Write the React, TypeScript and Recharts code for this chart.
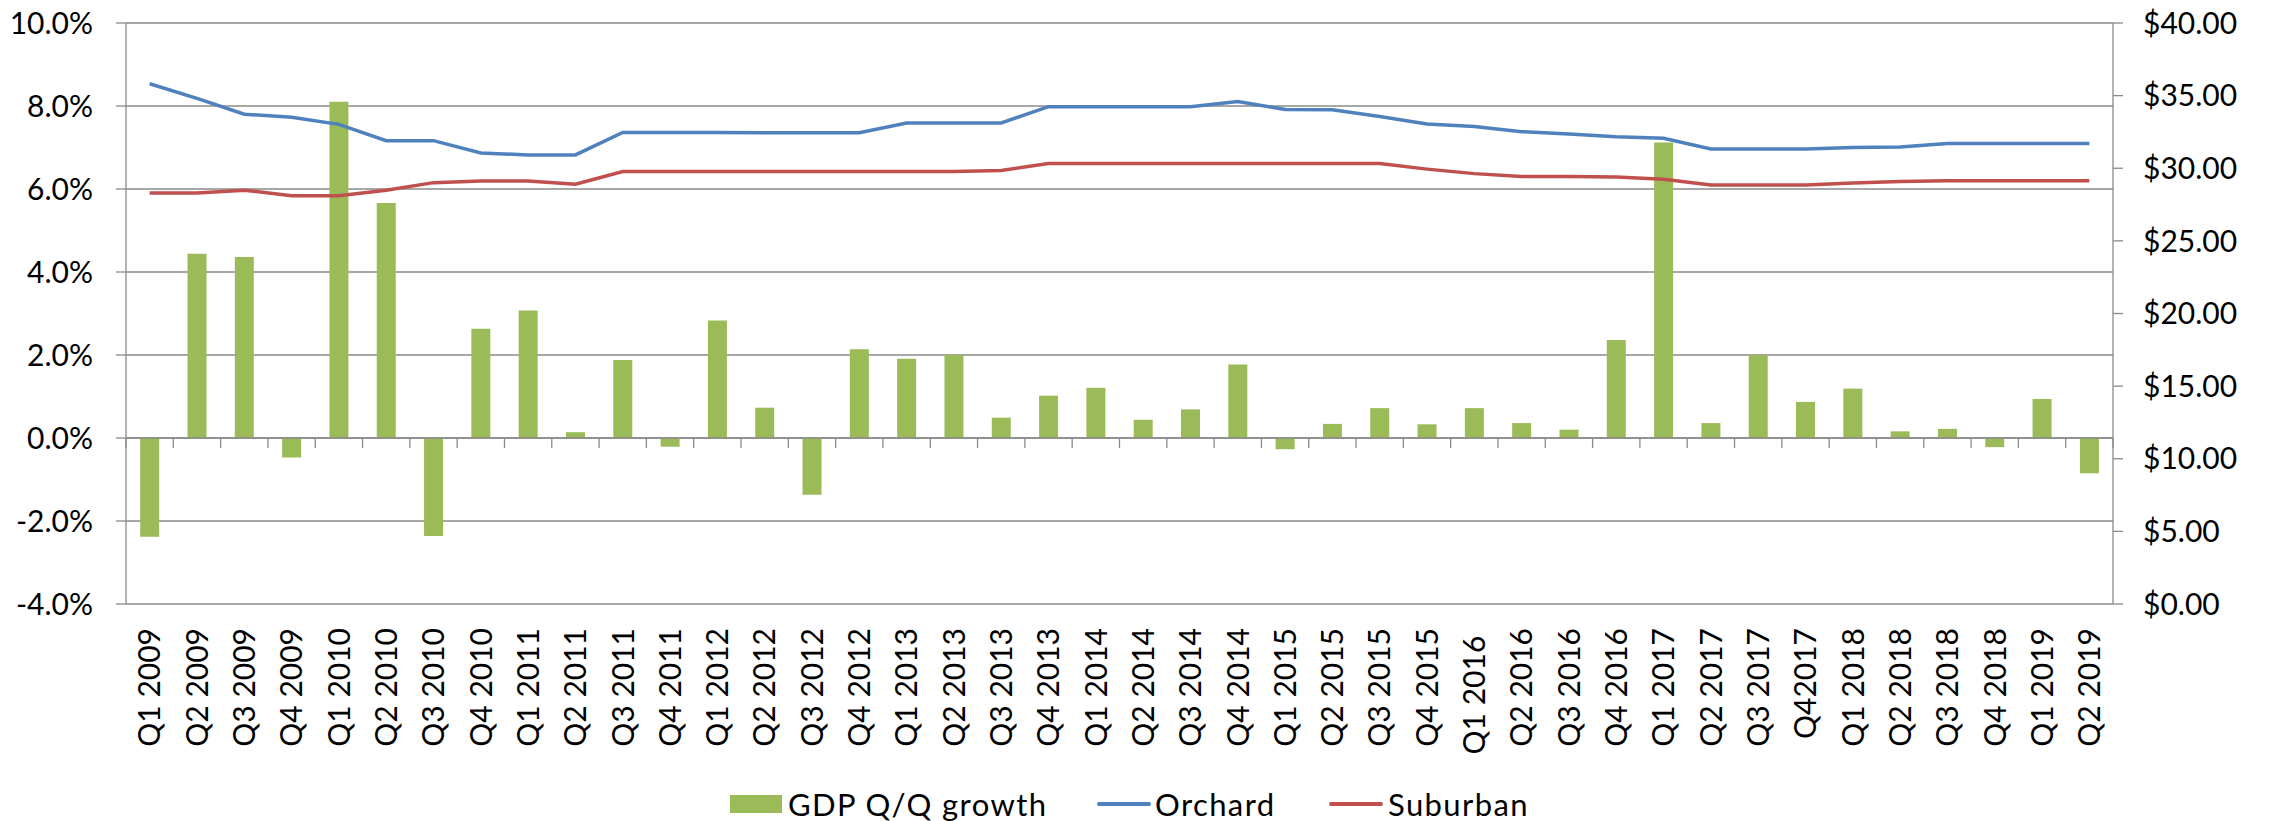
import React from 'react';
import {
  ComposedChart,
  Bar,
  Line,
  XAxis,
  YAxis,
  CartesianGrid,
  Legend,
  ReferenceLine,
} from 'recharts';

const categories: string[] = [
  'Q1 2009', 'Q2 2009', 'Q3 2009', 'Q4 2009',
  'Q1 2010', 'Q2 2010', 'Q3 2010', 'Q4 2010',
  'Q1 2011', 'Q2 2011', 'Q3 2011', 'Q4 2011',
  'Q1 2012', 'Q2 2012', 'Q3 2012', 'Q4 2012',
  'Q1 2013', 'Q2 2013', 'Q3 2013', 'Q4 2013',
  'Q1 2014', 'Q2 2014', 'Q3 2014', 'Q4 2014',
  'Q1 2015', 'Q2 2015', 'Q3 2015', 'Q4 2015',
  'Q1 2016\u00A0', 'Q2 2016', 'Q3 2016', 'Q4 2016',
  'Q1 2017', 'Q2 2017', 'Q3 2017', 'Q42017',
  'Q1 2018', 'Q2 2018', 'Q3 2018', 'Q4 2018',
  'Q1 2019', 'Q2 2019',
];

const gdpGrowth: number[] = [
  -2.38, 4.44, 4.36, -0.47,
  8.10, 5.66, -2.36, 2.63,
  3.07, 0.14, 1.88, -0.21,
  2.83, 0.73, -1.37, 2.14,
  1.91, 2.00, 0.49, 1.02,
  1.21, 0.44, 0.69, 1.77,
  -0.27, 0.34, 0.72, 0.33,
  0.72, 0.36, 0.20, 2.36,
  7.12, 0.36, 2.00, 0.87,
  1.19, 0.16, 0.22, -0.22,
  0.94, -0.85,
];

const orchard: number[] = [
  35.82, 34.81, 33.72, 33.51,
  33.02, 31.90, 31.90, 31.05,
  30.92, 30.92, 32.46, 32.46,
  32.46, 32.45, 32.45, 32.45,
  33.12, 33.12, 33.12, 34.24,
  34.24, 34.24, 34.24, 34.60,
  34.05, 34.02, 33.56, 33.04,
  32.88, 32.52, 32.36, 32.17,
  32.06, 31.32, 31.32, 31.32,
  31.43, 31.46, 31.71, 31.71,
  31.71, 31.71,
];

const suburban: number[] = [
  28.30, 28.30, 28.49, 28.11,
  28.11, 28.49, 29.01, 29.12,
  29.12, 28.90, 29.77, 29.77,
  29.77, 29.77, 29.77, 29.77,
  29.77, 29.77, 29.85, 30.32,
  30.32, 30.32, 30.32, 30.32,
  30.32, 30.32, 30.32, 29.94,
  29.63, 29.44, 29.44, 29.39,
  29.25, 28.84, 28.84, 28.84,
  28.98, 29.09, 29.14, 29.14,
  29.14, 29.14,
];

const leftTicks: number[] = [-4, -2, 0, 2, 4, 6, 8, 10];
const rightTicks: number[] = [0, 5, 10, 15, 20, 25, 30, 35, 40];

const data = categories.map((label, i) => ({
  label,
  gdp: gdpGrowth[i],
  orchard: orchard[i],
  suburban: suburban[i],
}));

const GREEN = '#9BBB59';
const BLUE = '#4F81BD';
const RED = '#C0504D';
const GRAY = '#8A8A8A';
const FONT = 'Lato, "Noto Sans", sans-serif';

const legendTextWidths: number[] = [265, 130, 137];
const legendIconGaps: number[] = [6, 4, 5];

const XTick = (props: any) => {
  const { x, y, payload } = props;
  return (
    <text
      x={x}
      y={y}
      transform={`rotate(-90, ${x}, ${y})`}
      textAnchor="end"
      dy="0.36em"
      fontSize={30}
      fontFamily={FONT}
      fill="#000"
    >
      {payload.value}
    </text>
  );
};

const ZeroAxis = (props: any) => {
  const { x1, y1, x2, y2 } = props;
  const n = categories.length;
  const step = (x2 - x1) / n;
  const ticks = [];
  for (let k = 0; k <= n; k++) {
    const xx = x1 + k * step;
    ticks.push(<line key={k} x1={xx} x2={xx} y1={y1} y2={y1 + 10} stroke={GRAY} strokeWidth={1.3} />);
  }
  return (
    <g>
      <line x1={x1} y1={y1} x2={x2} y2={y2} stroke={GRAY} strokeWidth={1.3} />
      {ticks}
    </g>
  );
};

const LegendContent = (props: any) => {
  const { payload = [] } = props;
  return (
    <div
      style={{
        display: 'flex',
        justifyContent: 'flex-start',
        alignItems: 'center',
        height: 34,
        fontSize: 31,
        letterSpacing: 1.4,
        fontFamily: FONT,
        color: '#000',
        whiteSpace: 'nowrap',
      }}
    >
      {payload.map((entry: any, idx: number) => (
        <div
          key={idx}
          style={{ display: 'flex', alignItems: 'center', marginRight: idx < payload.length - 1 ? 44 : 0 }}
        >
          {entry.type === 'rect' ? (
            <span
              style={{
                display: 'inline-block',
                width: 52,
                height: 18,
                background: entry.color,
                marginRight: legendIconGaps[idx] ?? 5,
              }}
            />
          ) : (
            <span
              style={{
                display: 'inline-block',
                width: 54,
                height: 4,
                borderRadius: 2,
                background: entry.color,
                marginRight: legendIconGaps[idx] ?? 5,
              }}
            />
          )}
          <span style={{ display: 'inline-block', width: legendTextWidths[idx] ?? 'auto' }}>{entry.value}</span>
        </div>
      ))}
    </div>
  );
};

export default function App() {
  return (
    <div style={{ position: 'absolute', left: 0, top: 0, width: 2272, height: 821, background: '#fff', fontFamily: FONT }}>
      <ComposedChart
        width={2272}
        height={821}
        data={data}
        margin={{ top: 23, right: 0, bottom: 0, left: 0 }}
        barCategoryGap="30%"
      >
        <CartesianGrid yAxisId="left" vertical={false} stroke={GRAY} strokeWidth={1.3} />
        <XAxis
          dataKey="label"
          interval={0}
          axisLine={false}
          tickLine={false}
          tickSize={0}
          tickMargin={24}
          height={183}
          tick={<XTick />}
        />
        <YAxis
          yAxisId="left"
          orientation="left"
          width={126}
          domain={[-4, 10]}
          ticks={leftTicks}
          allowDataOverflow
          tickFormatter={(v: number) => `${v.toFixed(1)}%`}
          tick={{ fontSize: 30, fill: '#000', fontFamily: FONT }}
          axisLine={{ stroke: GRAY, strokeWidth: 1.3 }}
          tickLine={{ stroke: GRAY, strokeWidth: 1.3 }}
          tickSize={10}
          tickMargin={23}
        />
        <YAxis
          yAxisId="right"
          orientation="right"
          width={159}
          domain={[0, 40]}
          ticks={rightTicks}
          allowDataOverflow
          tickFormatter={(v: number) => `$${v.toFixed(2)}`}
          tick={{ fontSize: 30, fill: '#000', fontFamily: FONT }}
          axisLine={{ stroke: GRAY, strokeWidth: 1.3 }}
          tickLine={{ stroke: GRAY, strokeWidth: 1.3 }}
          tickSize={10}
          tickMargin={20}
        />
        <ReferenceLine yAxisId="left" y={0} shape={(p: any) => <ZeroAxis {...p} />} />
        <Bar yAxisId="left" dataKey="gdp" name="GDP Q/Q growth" fill={GREEN} isAnimationActive={false} />
        <Line
          yAxisId="right"
          type="linear"
          dataKey="orchard"
          name="Orchard"
          stroke={BLUE}
          strokeWidth={3.5}
          dot={false}
          activeDot={false}
          isAnimationActive={false}
        />
        <Line
          yAxisId="right"
          type="linear"
          dataKey="suburban"
          name="Suburban"
          stroke={RED}
          strokeWidth={3.5}
          dot={false}
          activeDot={false}
          isAnimationActive={false}
        />
        <Legend
          verticalAlign="bottom"
          content={<LegendContent />}
          wrapperStyle={{ left: 730, width: 820, bottom: 0 }}
        />
      </ComposedChart>
    </div>
  );
}
